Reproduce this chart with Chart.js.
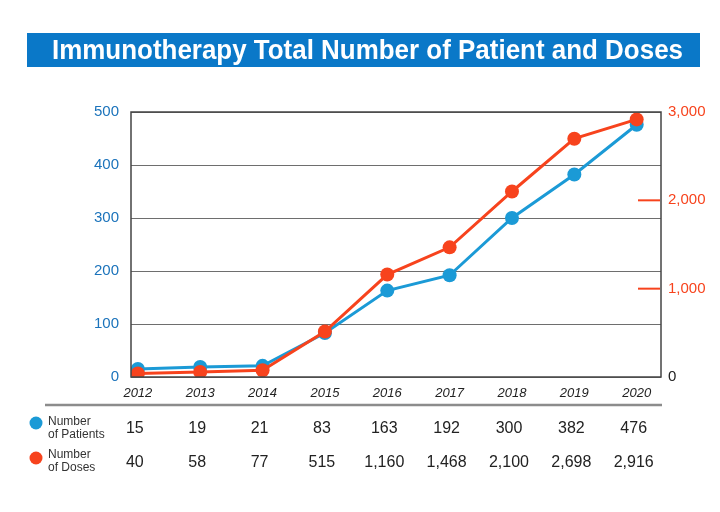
<!DOCTYPE html>
<html>
<head>
<meta charset="utf-8">
<script src="https://cdn.jsdelivr.net/npm/chart.js@4/dist/chart.umd.min.js"></script>
<style>
  html, body { margin: 0; padding: 0; background: #fff; }
  #wrap { width: 720px; height: 512px; }
</style>
</head>
<body>
<div id="wrap"><canvas id="chart" width="720" height="512"></canvas></div>
<script>
// Chart data
const titleText = 'Immunotherapy Total Number of Patient and Doses';
const years = [2012, 2013, 2014, 2015, 2016, 2017, 2018, 2019, 2020];
const patients = [15, 19, 21, 83, 163, 192, 300, 382, 476];
const doses = [40, 58, 77, 515, 1160, 1468, 2100, 2698, 2916];
const leftTicks = [0, 100, 200, 300, 400, 500];
const rightTicks = [0, 1000, 2000, 3000];
const redMarks = [1000, 2000];

const BLUE = '#1b9ad6';
const RED = '#f7431d';
const AXIS_BLUE = '#1b73bb';

function fmt(n) {
    return n.toLocaleString('en-US');
}

// Title bar, chart border, red marks and the value table under the x axis
const decorPlugin = {
    id: 'decor',
    beforeDraw(chart) {
        const ctx = chart.ctx;
        ctx.save();
        ctx.fillStyle = '#0a78c8';
        ctx.fillRect(27, 33, 673, 34);
        ctx.fillStyle = '#fff';
        ctx.font = 'bold 28px "Liberation Sans Narrow", "Liberation Sans", Arial, sans-serif';
        ctx.textBaseline = 'middle';
        ctx.textAlign = 'left';
        const w = ctx.measureText(titleText).width;
        ctx.translate(52, 51);
        ctx.scale(631 / w, 1);
        ctx.fillText(titleText, 0, 0);
        ctx.restore();
    },
    afterDatasetsDraw(chart) {
        const ctx = chart.ctx;
        const a = chart.chartArea;
        const y2 = chart.scales.y2;
        ctx.save();
        // border
        ctx.strokeStyle = '#444';
        ctx.lineWidth = 1.5;
        ctx.strokeRect(a.left, a.top, a.right - a.left, a.bottom - a.top);
        // red marks on the right axis
        ctx.strokeStyle = RED;
        ctx.lineWidth = 2;
        redMarks.forEach(v => {
            const py = y2.getPixelForValue(v);
            ctx.beginPath();
            ctx.moveTo(a.right - 23, py);
            ctx.lineTo(a.right - 1, py);
            ctx.stroke();
        });
        ctx.restore();
    },
    afterDraw(chart) {
        const ctx = chart.ctx;
        const x = chart.scales.x;
        ctx.save();
        // table rule
        ctx.strokeStyle = '#8c8c8c';
        ctx.lineWidth = 2.5;
        ctx.beginPath();
        ctx.moveTo(45, 405);
        ctx.lineTo(662, 405);
        ctx.stroke();

        // legend dots
        ctx.fillStyle = BLUE;
        ctx.beginPath();
        ctx.arc(36, 423, 6.5, 0, Math.PI * 2);
        ctx.fill();
        ctx.fillStyle = RED;
        ctx.beginPath();
        ctx.arc(36, 458, 6.5, 0, Math.PI * 2);
        ctx.fill();

        // row labels
        ctx.fillStyle = '#333';
        ctx.textBaseline = 'middle';
        ctx.textAlign = 'left';
        ctx.font = '12px "Liberation Sans Narrow", "Liberation Sans", Arial, sans-serif';
        ctx.fillText('Number', 48, 422);
        ctx.fillText('of Patients', 48, 435);
        ctx.fillText('Number', 48, 455);
        ctx.fillText('of Doses', 48, 468);

        // values
        ctx.textAlign = 'center';
        ctx.fillStyle = '#222';
        ctx.font = '16px "Liberation Sans", Arial, sans-serif';
        years.forEach((yr, i) => {
            const px = x.getPixelForValue(yr) - 3;
            ctx.fillText(fmt(patients[i]), px, 429);
            ctx.fillText(fmt(doses[i]), px, 463);
        });
        ctx.restore();
    }
};

const ctx = document.getElementById('chart').getContext('2d');
new Chart(ctx, {
    type: 'line',
    data: {
        datasets: [
            {
                label: 'Number of Doses',
                data: years.map((yr, i) => ({ x: yr, y: doses[i] })),
                yAxisID: 'y2',
                borderColor: RED,
                backgroundColor: RED,
                borderWidth: 3,
                pointRadius: 7,
                pointHoverRadius: 7,
                pointBorderWidth: 0,
                order: 1
            },
            {
                label: 'Number of Patients',
                data: years.map((yr, i) => ({ x: yr, y: patients[i] })),
                yAxisID: 'y',
                borderColor: BLUE,
                backgroundColor: BLUE,
                borderWidth: 3,
                pointRadius: 7,
                pointHoverRadius: 7,
                pointBorderWidth: 0,
                order: 2
            }
        ]
    },
    options: {
        responsive: false,
        animation: false,
        layout: { padding: { top: 112, left: 0, right: 0, bottom: 0 } },
        plugins: {
            legend: { display: false },
            tooltip: { enabled: false }
        },
        scales: {
            x: {
                type: 'linear',
                min: 2011.89,
                max: 2020.39,
                afterBuildTicks(scale) {
                    scale.ticks = years.map(v => ({ value: v }));
                },
                afterFit(scale) {
                    scale.height = 135;
                },
                grid: { display: false, drawTicks: false },
                border: { display: false },
                ticks: {
                    padding: 9,
                    color: '#222',
                    font: { family: '"Liberation Sans", Arial, sans-serif', size: 13, style: 'italic' },
                    callback: v => String(v),
                    maxRotation: 0,
                    autoSkip: false
                }
            },
            y: {
                position: 'left',
                min: 0,
                max: 500,
                afterBuildTicks(scale) {
                    scale.ticks = leftTicks.map(v => ({ value: v }));
                },
                afterFit(scale) {
                    scale.width = 131;
                },
                grid: { color: '#6e6e6e', lineWidth: 1, drawTicks: false },
                border: { display: false },
                ticks: {
                    padding: 12,
                    color: AXIS_BLUE,
                    font: { family: '"Liberation Sans", Arial, sans-serif', size: 15 }
                }
            },
            y2: {
                position: 'right',
                min: 0,
                max: 3000,
                afterBuildTicks(scale) {
                    scale.ticks = rightTicks.map(v => ({ value: v }));
                },
                afterFit(scale) {
                    scale.width = 59;
                },
                grid: { display: false, drawTicks: false },
                border: { display: false },
                ticks: {
                    padding: 7,
                    color: c => (c.tick && c.tick.value === 0 ? '#222' : RED),
                    font: { family: '"Liberation Sans", Arial, sans-serif', size: 15 },
                    callback: v => fmt(v)
                }
            }
        }
    },
    plugins: [decorPlugin]
});
</script>
</body>
</html>
